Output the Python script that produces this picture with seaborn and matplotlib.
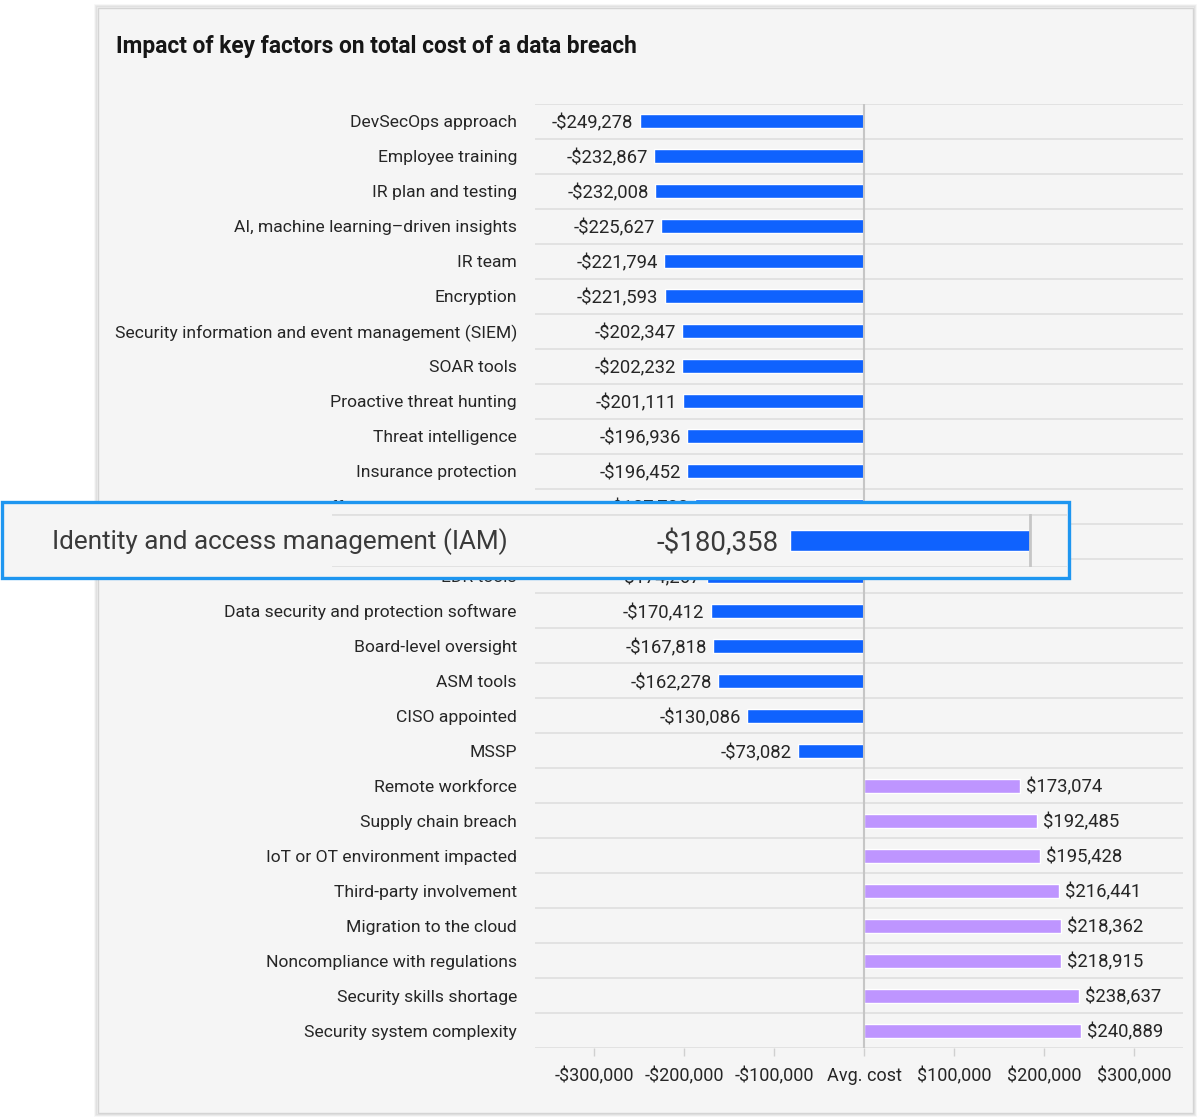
import matplotlib
matplotlib.use('Agg')
import matplotlib.pyplot as plt
import seaborn as sns
import pandas as pd
from matplotlib.patches import Rectangle

factores = [
    'DevSecOps approach', 'Employee training', 'IR plan and testing',
    'AI, machine learning–driven insights', 'IR team', 'Encryption',
    'Security information and event management (SIEM)', 'SOAR tools',
    'Proactive threat hunting', 'Threat intelligence', 'Insurance protection',
    'Offensive security testing', 'Identity and access management (IAM)',
    'EDR tools', 'Data security and protection software', 'Board-level oversight',
    'ASM tools', 'CISO appointed', 'MSSP',
    'Remote workforce', 'Supply chain breach', 'IoT or OT environment impacted',
    'Third-party involvement', 'Migration to the cloud',
    'Noncompliance with regulations', 'Security skills shortage',
    'Security system complexity',
]
costos = [
    -249278, -232867, -232008, -225627, -221794, -221593, -202347, -202232,
    -201111, -196936, -196452, -187703, -180358, -174267, -170412, -167818,
    -162278, -130086, -73082,
    173074, 192485, 195428, 216441, 218362, 218915, 238637, 240889,
]
ticks_x = [-300000, -200000, -100000, 0, 100000, 200000, 300000]
ticks_txt = ['-$300,000', '-$200,000', '-$100,000', 'Avg. cost',
             '$100,000', '$200,000', '$300,000']
destacado = 'Identity and access management (IAM)'

AZUL = '#0f62fe'
MORADO = '#be95ff'
TEXTO = '#262626'

df = pd.DataFrame({'factor': factores, 'costo': costos})
df['grupo'] = ['neg' if c < 0 else 'pos' for c in costos]

W, H = 1200, 1119
def fx(px):
    return px / W
def fy(py):
    return 1 - py / H

sns.set_theme(style='white')
plt.rcParams['font.family'] = ['Roboto', 'DejaVu Sans']

fig = plt.figure(figsize=(12, 11.19), dpi=100)
fig.patch.set_facecolor('white')

# tarjeta con sombra
for i, a in enumerate([0.08, 0.06, 0.04]):
    d = i + 1
    fig.add_artist(Rectangle((fx(98 - d), fy(1113 + d)), fx(1095 + 2 * d), (1105 + 2 * d) / H,
                             transform=fig.transFigure, facecolor='none',
                             edgecolor=(0, 0, 0, a), lw=1.2, zorder=-2))
fig.add_artist(Rectangle((fx(98), fy(1113)), fx(1095), 1105 / H, transform=fig.transFigure,
                         facecolor='#f5f5f5', edgecolor='#d4d4d4', lw=1.0, zorder=-1))

fig.text(fx(116), fy(47), 'Impact of key factors on total cost of a data breach',
         fontsize=16.4, fontweight='bold', color='#161616', va='center', ha='left')

# grafico principal
ax = fig.add_axes([fx(535), fy(1048), fx(1183) - fx(535), (1048 - 104) / H])
ax.set_facecolor('none')
sns.barplot(data=df, x='costo', y='factor', hue='grupo',
            palette={'neg': AZUL, 'pos': MORADO}, width=0.4, dodge=False,
            saturation=1, legend=False, ax=ax, zorder=3)
n = len(factores)
ax.set_xlim(-365556, 354444)
ax.set_ylim(n - 0.5, -0.5)
for i in range(n + 1):
    ax.axhline(i - 0.5, color='#e0e0e0', lw=1.3, zorder=1)
ax.axvline(0, color='#c6c6c6', lw=1.5, zorder=4)
for s in ax.spines.values():
    s.set_visible(False)
ax.set_xticks(ticks_x)
ax.set_xticklabels(ticks_txt)
ax.tick_params(axis='x', bottom=True, length=6, width=1, color='#d0d0d0',
               labelsize=13, labelcolor=TEXTO, pad=8)
ax.tick_params(axis='y', left=False, length=0, labelsize=12.6, labelcolor=TEXTO, pad=13)
ax.set_xlabel('')
ax.set_ylabel('')

for i, v in enumerate(costos):
    if v < 0:
        txt, dx, ha = f'-${abs(v):,}', -4.5, 'right'
    else:
        txt, dx, ha = f'${v:,}', 4.5, 'left'
    ax.annotate(txt, xy=(v, i), xytext=(dx, 0), textcoords='offset points',
                ha=ha, va='center_baseline', fontsize=13.3, color=TEXTO)

# recuadro ampliado
fig.add_artist(Rectangle((fx(2), fy(578)), fx(1067), 76 / H, transform=fig.transFigure,
                         facecolor='#f5f5f5', edgecolor='#1e96f0', lw=2.4, zorder=5))
val = costos[factores.index(destacado)]
ax2 = fig.add_axes([fx(332), fy(567), fx(1067) - fx(332), 53 / H])
ax2.set_zorder(6)
ax2.set_facecolor('none')
sns.barplot(x=[val], y=[destacado], color=AZUL, width=0.415, saturation=1, ax=ax2, zorder=3)
ax2.set_xlim((332 - 1030) / (240 / 180358), (1067 - 1030) / (240 / 180358))
ax2.set_ylim(0.5, -0.5)
ax2.axhline(-0.5, color='#e0e0e0', lw=2, zorder=1)
ax2.axhline(0.5, color='#e0e0e0', lw=2, zorder=1)
ax2.axvline(0, color='#c6c6c6', lw=2, zorder=4)
for s in ax2.spines.values():
    s.set_visible(False)
ax2.set_xticks([])
ax2.set_yticks([])
ax2.set_xlabel('')
ax2.set_ylabel('')
ax2.annotate(f'-${abs(val):,}', xy=(val, 0), xytext=(-8.5, 0), textcoords='offset points',
             ha='right', va='center_baseline', fontsize=20, color='#3a3a3a')
fig.text(fx(508), fy(542), destacado, ha='right', va='center', fontsize=18.8,
         color='#3a3a3a', zorder=7)

fig.savefig('out.png', dpi=100, facecolor='white')
